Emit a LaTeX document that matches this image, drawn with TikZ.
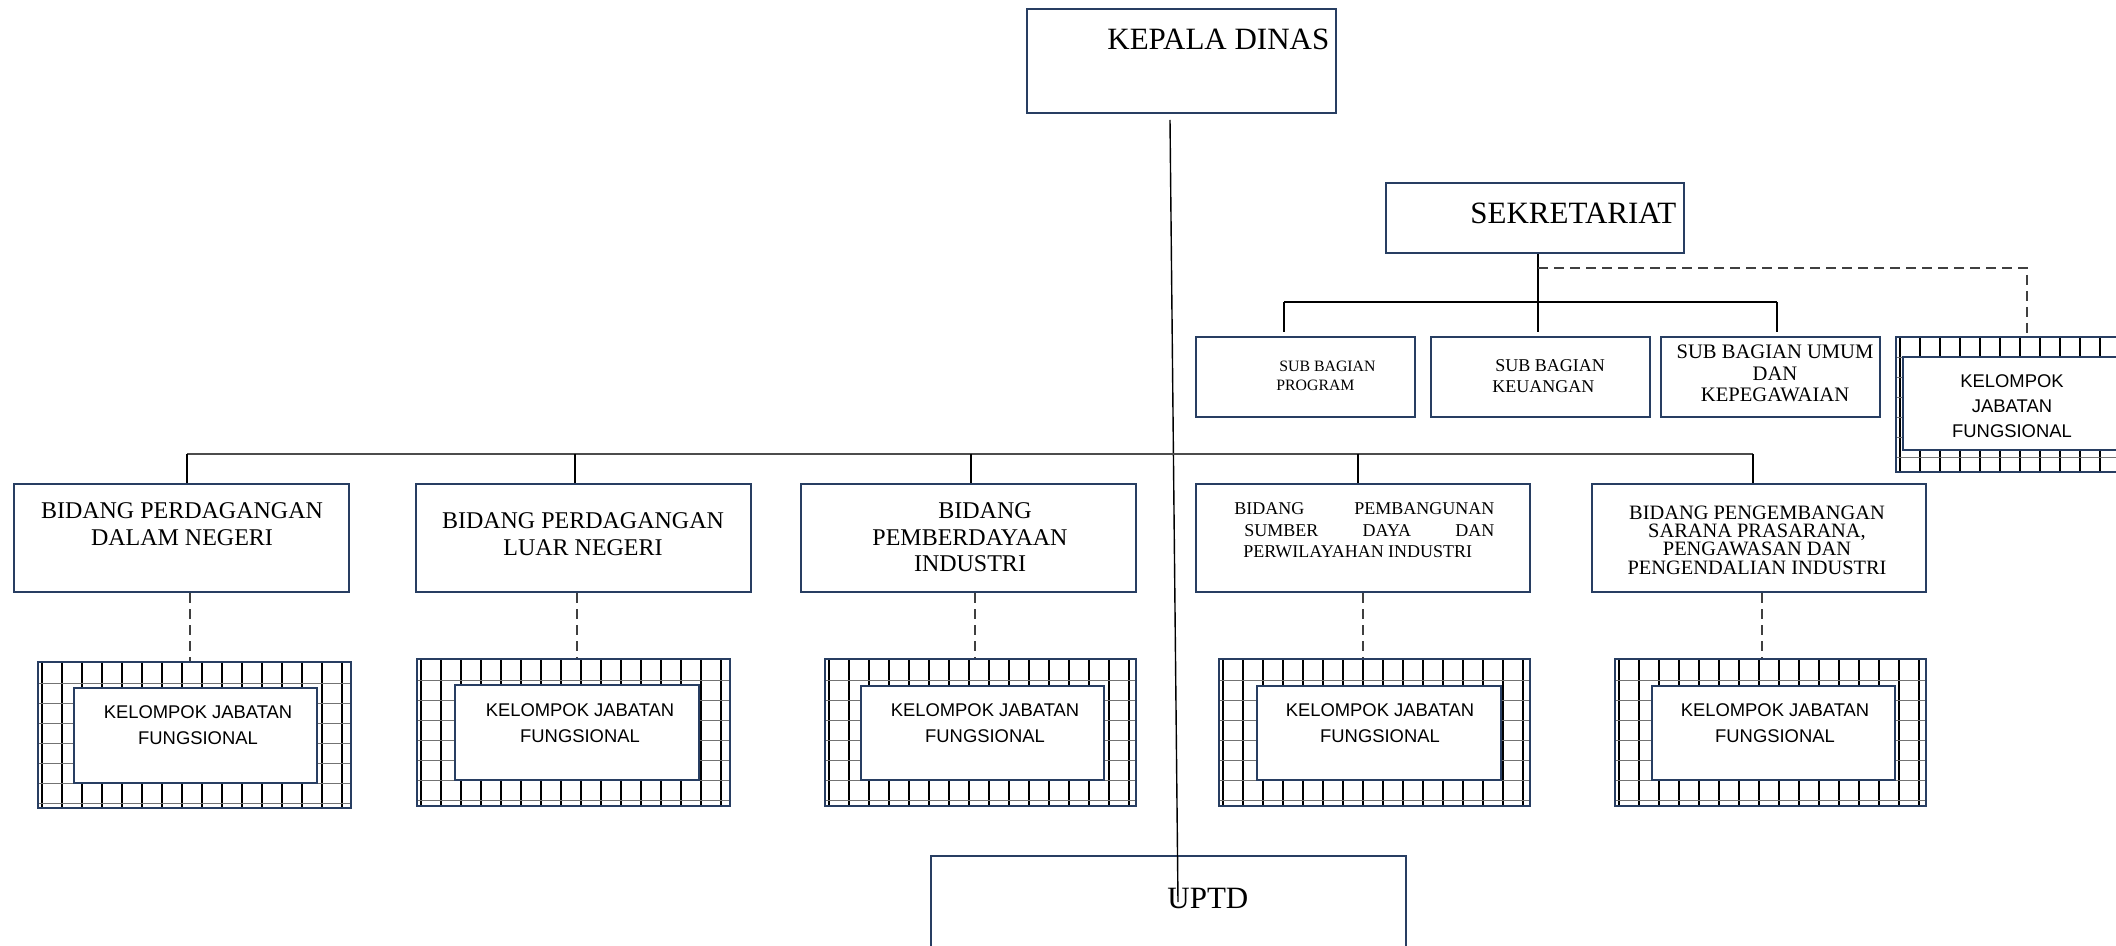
\documentclass[tikz,border=0pt]{standalone}
\usepackage{fontspec}
\setmainfont{Liberation Serif}
\newfontfamily\kjffont{Liberation Sans}
\usetikzlibrary{fit}
\definecolor{navy}{RGB}{40,62,98}
\tikzset{
  box/.style={draw=navy, line width=1.3pt, inner sep=0pt},
  wbox/.style={box, fill=white},
  lbl/.style={inner sep=0pt, text=black},
  btxt/.style={lbl, align=center, font=\fontsize{12}{13.5}\selectfont},
  kjft/.style={lbl, anchor=north, align=center, font=\kjffont\fontsize{9.2}{12.75}\selectfont},
  big/.style={lbl, anchor=base west, font=\fontsize{15.5}{18}\selectfont},
  conn/.style={line width=0.7pt, black},
  bus/.style={line width=1pt, black!70},
  dashln/.style={line width=0.7pt, black!75, dash pattern=on 5pt off 3pt},
  gridv/.style={line width=1.2pt, black},
  gridh/.style={line width=0.5pt, black!55},
}
\newcommand\kjfbox[9]{%
  \begin{scope}
    \clip (#2,#3) rectangle (#4,#5);
    \foreach \gx in {4,24,...,404} \draw[gridv] ({#2+\gx},#3) -- ({#2+\gx},#5);
    \foreach \gy in {21,41,...,161} \draw[gridh] (#2,{#3+\gy}) -- (#4,{#3+\gy});
  \end{scope}
  \node[box, fit={(#2,#3)(#4,#5)}] (#1) {};
  \node[wbox, fit={(#6,#7)(#8,#9)}] (#1i) {};
}
\begin{document}
\begin{tikzpicture}[x=0.5pt,y=-0.5pt]
\useasboundingbox (0,0) rectangle (2116,946);
\fill[white] (0,0) rectangle (2116,946);
\clip (0,0) rectangle (2116,946);

% top
\node[box, fit={(1027,9)(1336,113)}] (kd) {};
\node[big] (kdt) at (1107,50) {KEPALA DINAS};
\node[box, fit={(1386,183)(1684,253)}] (sek) {};
\node[big] (sekt) at (1470,224) {SEKRETARIAT};

% sub bagian
\node[box, fit={(1196,337)(1415,417)}] (sbp) {};
\node[lbl, anchor=north west, align=left, font=\fontsize{7.9}{9.5}\selectfont] (sbpt) at (1276,360.7) {\hspace*{1.5pt}SUB BAGIAN\\PROGRAM};
\node[box, fit={(1431,337)(1650,417)}] (sbk) {};
\node[lbl, anchor=north west, align=left, font=\fontsize{9}{10.5}\selectfont] (sbkt) at (1492,359.2) {\hspace*{1.5pt}SUB BAGIAN\\KEUANGAN};
\node[box, fit={(1661,337)(1880,417)}] (sbu) {};
\node[lbl, anchor=north, align=center, font=\fontsize{10.3}{10.75}\selectfont] (sbut) at (1775,344.5) {SUB BAGIAN UMUM\\DAN\\KEPEGAWAIAN};
\kjfbox{kjf0}{1896}{337}{2140}{472}{1903}{357}{2135}{450}
\node[kjft, font=\kjffont\fontsize{9.2}{12.5}\selectfont] (kjf0t) at (2012,374.6) {KELOMPOK\\JABATAN\\FUNGSIONAL};

% bidang
\node[box, fit={(14,484)(349,592)}] (b1) {};
\node[btxt, anchor=north] (b1t) at (182,502.3) {BIDANG PERDAGANGAN\\DALAM NEGERI};
\node[box, fit={(416,484)(751,592)}] (b2) {};
\node[btxt, anchor=north] (b2t) at (583,512.3) {BIDANG PERDAGANGAN\\LUAR NEGERI};
\node[box, fit={(801,484)(1136,592)}] (b3) {};
\node[btxt, anchor=north, font=\fontsize{12}{13.25}\selectfont] (b3t) at (970,502.3) {\hspace*{15pt}BIDANG\\PEMBERDAYAAN\\INDUSTRI};
\node[box, fit={(1196,484)(1530,592)}] (b4) {};
\node[lbl, anchor=north west, align=left, font=\fontsize{9}{10.75}\selectfont] (b4t) at (1234,502.2)
  {\makebox[130pt][s]{BIDANG\hfill PEMBANGUNAN}\\\hspace*{5pt}\makebox[125pt][s]{SUMBER\hfill DAYA\hfill DAN}\\\hspace*{4.5pt}PERWILAYAHAN INDUSTRI};
\node[box, fit={(1592,484)(1926,592)}] (b5) {};
\node[lbl, anchor=north, align=center, font=\fontsize{10.2}{9.1}\selectfont] (b5t) at (1757,505.6)
  {BIDANG PENGEMBANGAN\\SARANA PRASARANA,\\PENGAWASAN DAN\\PENGENDALIAN INDUSTRI};

% kelompok jabatan fungsional
\kjfbox{k1}{38}{662}{351}{808}{74}{688}{317}{783}
\node[kjft] (k1t) at (198,705.6) {KELOMPOK JABATAN\\FUNGSIONAL};
\kjfbox{k2}{417}{659}{730}{806}{455}{685}{699}{780}
\node[kjft] (k2t) at (580,703.6) {KELOMPOK JABATAN\\FUNGSIONAL};
\kjfbox{k3}{825}{659}{1136}{806}{861}{686}{1104}{780}
\node[kjft] (k3t) at (985,703.6) {KELOMPOK JABATAN\\FUNGSIONAL};
\kjfbox{k4}{1219}{659}{1530}{806}{1257}{686}{1501}{780}
\node[kjft] (k4t) at (1380,703.6) {KELOMPOK JABATAN\\FUNGSIONAL};
\kjfbox{k5}{1615}{659}{1926}{806}{1652}{686}{1895}{780}
\node[kjft] (k5t) at (1775,703.6) {KELOMPOK JABATAN\\FUNGSIONAL};

% UPTD
\node[box, fit={(931,856)(1406,952)}] (uptd) {};
\node[big] (uptdt) at (1167,908) {UPTD};

% connectors
\coordinate (kdl) at (1170,120);
\coordinate (upl) at (1178,902);
\draw[conn] (kdl) -- (upl);

\coordinate (sx) at (1538,0);
\draw[conn] (sek.south -| sx) -- ([yshift=2pt]sbk.north -| sx);
\coordinate (sbl) at (1284,302);
\coordinate (sbr) at (1777,302);
\draw[conn] (sbl) -- (sbr);
\draw[conn] (sbl) -- ([yshift=2pt]sbl |- sbp.north);
\draw[conn] (sbr) -- ([yshift=2pt]sbr |- sbu.north);
\coordinate (dsl) at (1538,268);
\coordinate (dsr) at (2027,268);
\draw[dashln] (dsl) -- (dsr) -- (dsr |- kjf0.north);

\coordinate (t1) at (187,454);
\coordinate (t2) at (575,454);
\coordinate (t3) at (971,454);
\coordinate (t4) at (1358,454);
\coordinate (t5) at (1753,454);
\draw[bus] (t1) -- (t5);
\foreach \i in {1,...,5} \draw[conn] (t\i) -- (t\i |- b\i.north);

\coordinate (d1) at (190,0);
\coordinate (d2) at (577,0);
\coordinate (d3) at (975,0);
\coordinate (d4) at (1363,0);
\coordinate (d5) at (1762,0);
\foreach \i in {1,...,5} \draw[dashln] (b\i.south -| d\i) -- (k\i.north -| d\i);
\end{tikzpicture}
\end{document}
